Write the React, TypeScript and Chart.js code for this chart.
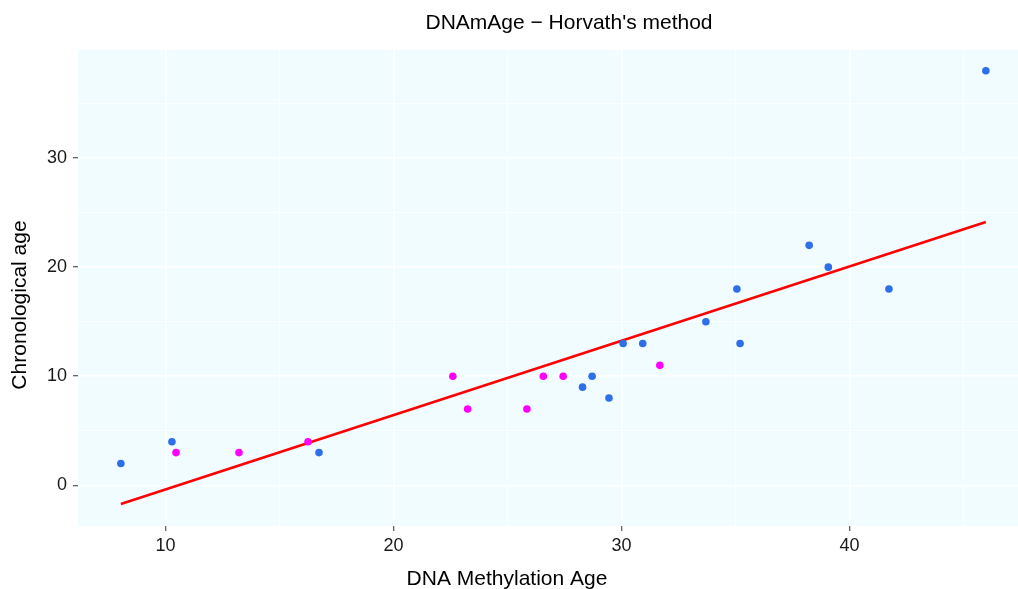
import React, { useEffect, useRef } from "react";
import { Chart, registerables } from "chart.js";

Chart.register(...registerables);

// Data
const blueX = [8.04, 10.28, 16.73, 28.29, 28.71, 29.45, 30.07, 30.93, 33.7, 35.06, 35.2, 38.23, 39.07, 41.73, 45.98];
const blueY = [2, 4, 3, 9, 10, 8, 13, 13, 15, 18, 13, 22, 20, 18, 38];
const magentaX = [10.46, 13.22, 16.25, 22.6, 23.25, 25.85, 26.57, 27.44, 31.68];
const magentaY = [3, 3, 4, 10, 7, 7, 10, 10, 11];
const fitX = [8.04, 45.98];
const fitY = [-1.72, 24.13];

const xGridValues = [10, 15, 20, 25, 30, 35, 40, 45];
const xTickLabels = [10, 20, 30, 40];
const yGridValues = [-5, 0, 5, 10, 15, 20, 25, 30, 35, 40];
const yTickLabels = [0, 10, 20, 30];
const xRange = [6.16, 47.39];
const yRange = [-3.73, 40.0];

const titleText = "DNAmAge \u2212 Horvath's method";
const xTitleText = "DNA Methylation Age";
const yTitleText = "Chronological age";

const FONT = "'Liberation Sans', Arial, Helvetica, sans-serif";

const toPoints = (xs: number[], ys: number[]) => xs.map((x, i) => ({ x, y: ys[i] }));

const textPlugin = {
  id: "customText",
  beforeDraw(chart: any) {
    const { ctx, chartArea } = chart;
    ctx.save();
    ctx.fillStyle = "#F0FCFF";
    ctx.fillRect(chartArea.left, chartArea.top, chartArea.right - chartArea.left, chartArea.bottom - chartArea.top);
    ctx.restore();
  },
  afterDraw(chart: any) {
    const { ctx } = chart;
    ctx.save();
    ctx.fillStyle = "#000";
    ctx.font = `21px ${FONT}`;
    ctx.textAlign = "center";
    ctx.textBaseline = "alphabetic";
    ctx.fillText(titleText, 569, 29);
    ctx.fillText(xTitleText, 507, 585);
    ctx.translate(26, 305);
    ctx.rotate(-Math.PI / 2);
    ctx.fillText(yTitleText, 0, 0);
    ctx.restore();
  },
};

export default function App() {
  const ref = useRef<HTMLCanvasElement | null>(null);

  useEffect(() => {
    if (!ref.current) return;
    const isMajorX = (v: number) => xTickLabels.includes(v);
    const isMajorY = (v: number) => yTickLabels.includes(v);
    const chart = new Chart(ref.current, {
      type: "scatter",
      data: {
        datasets: [
          {
            label: "blue",
            data: toPoints(blueX, blueY),
            backgroundColor: "#2D6FE8",
            borderWidth: 0,
            pointRadius: 3.8,
          },
          {
            label: "magenta",
            data: toPoints(magentaX, magentaY),
            backgroundColor: "#FF00FF",
            borderWidth: 0,
            pointRadius: 3.8,
          },
          {
            label: "fit",
            type: "line",
            data: toPoints(fitX, fitY),
            borderColor: "#FF0000",
            borderWidth: 2.6,
            pointRadius: 0,
            showLine: true,
            fill: false,
          } as any,
        ],
      },
      options: {
        animation: false,
        responsive: false,
        layout: { autoPadding: false, padding: { top: 49, left: 0, right: 0, bottom: 0 } },
        plugins: {
          legend: { display: false },
          tooltip: { enabled: false },
          title: { display: false },
        },
        scales: {
          x: {
            type: "linear",
            min: xRange[0],
            max: xRange[1],
            afterBuildTicks: (scale: any) => {
              scale.ticks = xGridValues.map((v) => ({ value: v }));
            },
            afterFit: (scale: any) => {
              scale.height = 63;
              scale.paddingLeft = 0;
              scale.paddingRight = 0;
            },
            border: { display: false },
            grid: {
              color: "#FFFFFF",
              lineWidth: (c: any) => (c.tick && isMajorX(c.tick.value) ? 1.5 : 0.8),
              tickColor: (c: any) => (c.tick && isMajorX(c.tick.value) ? "#333333" : "rgba(0,0,0,0)"),
              tickLength: 5,
              tickWidth: 1,
            },
            ticks: {
              padding: 4,
              color: "#1a1a1a",
              font: { family: FONT, size: 18 },
              maxRotation: 0,
              autoSkip: false,
              callback: (v: any) => (isMajorX(Number(v)) ? String(v) : ""),
            },
          },
          y: {
            type: "linear",
            min: yRange[0],
            max: yRange[1],
            afterBuildTicks: (scale: any) => {
              scale.ticks = yGridValues
                .filter((v) => v >= yRange[0] && v <= yRange[1])
                .map((v) => ({ value: v }));
            },
            afterFit: (scale: any) => {
              scale.width = 78;
              scale.paddingTop = 0;
              scale.paddingBottom = 0;
            },
            border: { display: false },
            grid: {
              color: "#FFFFFF",
              lineWidth: (c: any) => (c.tick && isMajorY(c.tick.value) ? 1.5 : 0.8),
              tickColor: (c: any) => (c.tick && isMajorY(c.tick.value) ? "#333333" : "rgba(0,0,0,0)"),
              tickLength: 5,
              tickWidth: 1,
            },
            ticks: {
              padding: 6,
              color: "#1a1a1a",
              font: { family: FONT, size: 18 },
              autoSkip: false,
              callback: (v: any) => (isMajorY(Number(v)) ? String(v) : ""),
            },
          },
        },
      },
      plugins: [textPlugin],
    });
    return () => chart.destroy();
  }, []);

  return (
    <div style={{ position: "absolute", left: 0, top: 0, width: 1018, height: 589, background: "#fff" }}>
      <canvas ref={ref} width={1018} height={589} style={{ display: "block" }} />
    </div>
  );
}
